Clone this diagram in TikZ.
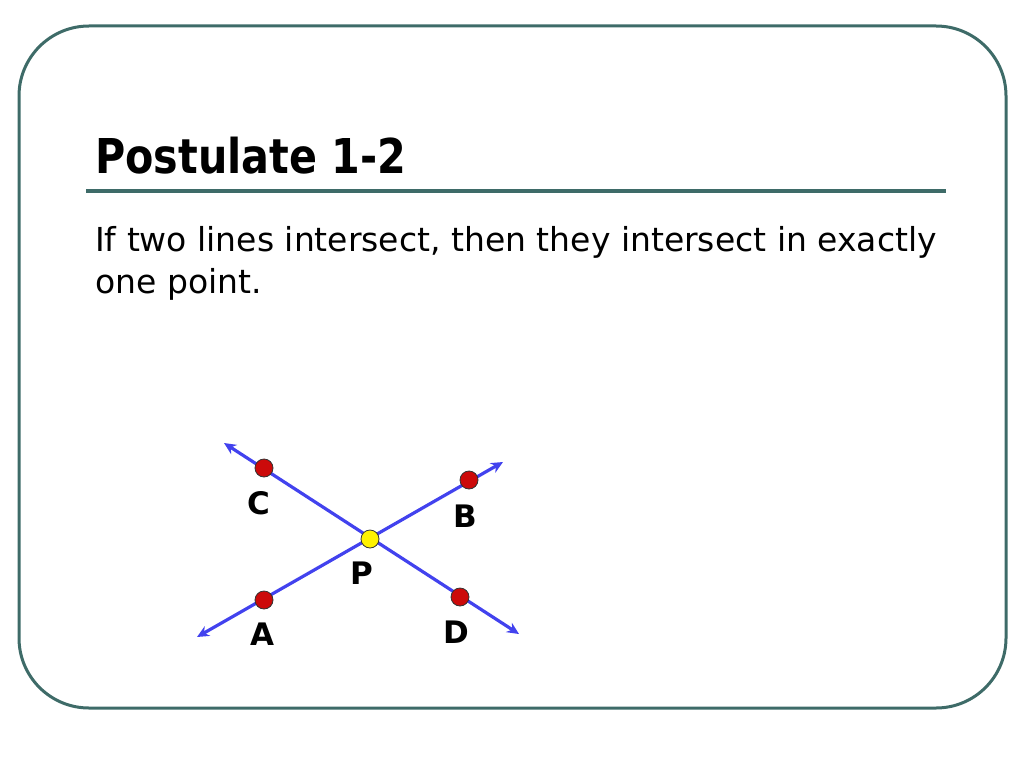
\documentclass[tikz,border=0pt]{standalone}
\usepackage{fontspec}
\setmainfont{DejaVu Sans}
\newfontfamily\titlefont[FakeStretch=0.86]{DejaVu Sans}
\usepackage{tikz}
\usetikzlibrary{positioning,arrows.meta}
\definecolor{frame}{HTML}{3E6B68}
\definecolor{lineblue}{HTML}{4242EE}
\definecolor{dotred}{HTML}{CC0A0A}
\tikzstyle{novertex} = [draw=none, fill=none, inner sep=0pt]
\tikzstyle{pt} = [circle, draw=black!80, line width=0.8pt, fill=dotred, minimum size=18pt, inner sep=0pt]
\tikzstyle{mid} = [circle, draw=black!80, line width=0.8pt, fill=yellow, minimum size=18pt, inner sep=0pt]
\tikzstyle{lbl} = [draw=none, fill=none, font=\fontsize{31}{31}\selectfont\bfseries]
\tikzstyle{ray} = [draw=lineblue, line width=3.2pt, {Stealth[length=12pt,width=11pt]}-{Stealth[length=12pt,width=11pt]}]

\begin{document}
\begin{tikzpicture}[x=1pt, y=-1pt]
	\useasboundingbox (0,0) rectangle (1024,768);
	% frame and title
	\draw [frame, line width=3pt, rounded corners=70pt] (19,26) rectangle (1006,708);
	\node [novertex, anchor=base west, font=\fontsize{48}{48}\titlefont\bfseries] (T) at (95,173) {Postulate 1-2};
	\draw [frame, line width=4pt] (86,191) -- (946,191);
	\node [novertex, anchor=base west, font=\fontsize{33}{42}\selectfont] (L1) at (95,251) {If two lines intersect, then they intersect in exactly};
	\node [novertex, anchor=base west, font=\fontsize{33}{42}\selectfont] (L2) at (95,293) {one point.};

	% ends of the lines
	\coordinate (e1) at (224,443);
	\coordinate (e2) at (519,634);
	\coordinate (e3) at (197,637);
	\coordinate (e4) at (503,462);

	% draw lines
	\path [ray] (e1) -- (e2);
	\path [ray] (e3) -- (e4);

	% place points
	\node [pt]  (C) at (264,468) {};
	\node [pt]  (B) at (469,480) {};
	\node [pt]  (A) at (264,600) {};
	\node [pt]  (D) at (460,597) {};
	\node [mid] (P) at (370,539) {};

	% labels
	\node [lbl] (lC) at (259,503) {C};
	\node [lbl] (lB) at (465,516) {B};
	\node [lbl] (lP) at (362,573) {P};
	\node [lbl] (lA) at (262,634) {A};
	\node [lbl] (lD) at (456,632) {D};
\end{tikzpicture}
\end{document}
